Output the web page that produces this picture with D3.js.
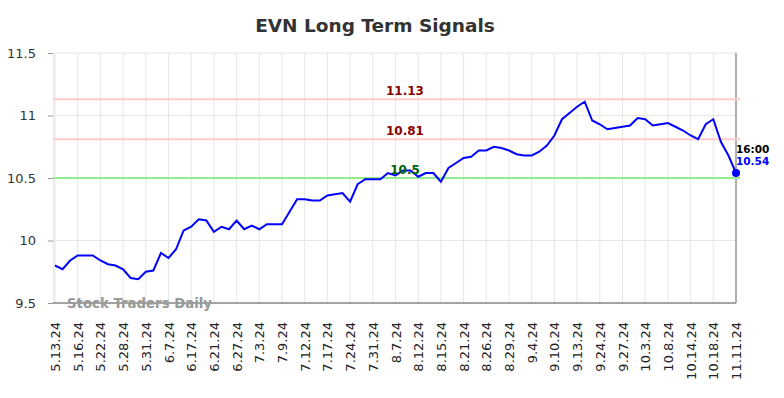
<!DOCTYPE html>
<html>
<head>
<meta charset="utf-8">
<script src="https://d3js.org/d3.v7.min.js"></script>
<style>
  body { margin: 0; background: #fff; }
  text { font-family: "DejaVu Sans", sans-serif; }
  .grid line { stroke: #e6e6e6; }
</style>
</head>
<body>
<div id="chart"></div>
<script>
// tick labels shown on the x axis (every third point)
var tickLabels = ["5.13.24","5.16.24","5.22.24","5.28.24","5.31.24","6.7.24","6.17.24","6.21.24",
  "6.27.24","7.3.24","7.9.24","7.12.24","7.17.24","7.24.24","7.31.24","8.7.24","8.12.24",
  "8.15.24","8.21.24","8.26.24","8.29.24","9.4.24","9.10.24","9.13.24","9.24.24","9.27.24",
  "10.3.24","10.8.24","10.14.24","10.18.24","11.11.24"];

// closing values, one per point
var prices = [9.80,9.77,9.84,9.88,9.88,9.88,9.84,9.81,9.80,9.77,
  9.70,9.69,9.75,9.76,9.90,9.86,9.93,10.08,10.11,10.17,
  10.16,10.07,10.11,10.09,10.16,10.09,10.12,10.09,10.13,10.13,
  10.13,10.23,10.33,10.33,10.32,10.32,10.36,10.37,10.38,10.31,
  10.45,10.49,10.49,10.49,10.54,10.52,10.56,10.56,10.51,10.54,
  10.54,10.47,10.58,10.62,10.66,10.67,10.72,10.72,10.75,10.74,
  10.72,10.69,10.68,10.68,10.71,10.76,10.84,10.97,11.02,11.07,
  11.11,10.96,10.93,10.89,10.90,10.91,10.92,10.98,10.97,10.92,
  10.93,10.94,10.91,10.88,10.84,10.81,10.93,10.97,10.79,10.68,
  10.54];

var yTicks = [9.5, 10, 10.5, 11, 11.5];
var signalLevels = [11.13, 10.81];
var supportLevel = 10.5;
var lastTime = "16:00";

var width = 784, height = 398;

var svg = d3.select("#chart").append("svg")
  .attr("width", width)
  .attr("height", height);

svg.append("text")
  .attr("x", 375).attr("y", 32)
  .attr("text-anchor", "middle")
  .style("font-size", "18.5px").style("font-weight", "bold").style("fill", "#333")
  .text("EVN Long Term Signals");

var idx = d3.range(prices.length);
var x = d3.scalePoint().domain(idx).range([55, 736]);
var y = d3.scaleLinear().domain([9.5, 11.5]).range([303, 53]);

// vertical grid at labelled points
var tickIdx = tickLabels.map(function(d, i) { return i * 3; });
svg.append("g").attr("class", "grid")
  .selectAll("line").data(tickIdx).enter().append("line")
  .attr("x1", function(d) { return x(d); }).attr("x2", function(d) { return x(d); })
  .attr("y1", 53).attr("y2", 303);

svg.append("g").attr("class", "grid")
  .selectAll("line").data(yTicks).enter().append("line")
  .attr("x1", 53).attr("x2", 736)
  .attr("y1", function(d) { return y(d); }).attr("y2", function(d) { return y(d); });

// y axis
var yAxis = svg.append("g")
  .attr("transform", "translate(53,0)")
  .call(d3.axisLeft(y).tickValues(yTicks).tickSize(5).tickPadding(12)
    .tickFormat(function(d) { return d3.format("")(d); }));
yAxis.select(".domain").attr("stroke", "#e6e6e6");
yAxis.selectAll(".tick line").attr("stroke", "#999");
yAxis.selectAll("text").style("font-size", "13px").style("fill", "#333")
  .style("font-family", "DejaVu Sans, sans-serif");

// x axis
var xAxis = svg.append("g")
  .attr("transform", "translate(0,303)")
  .call(d3.axisBottom(x).tickValues(tickIdx).tickSize(0)
    .tickFormat(function(d) { return tickLabels[d / 3]; }));
xAxis.select(".domain").attr("stroke", "#555").attr("d", "M53,0H736");
xAxis.selectAll("text")
  .attr("transform", "rotate(-90)")
  .attr("text-anchor", "end")
  .attr("x", -19).attr("y", 0).attr("dy", "0.35em")
  .style("font-size", "13px").style("fill", "#222")
  .style("font-family", "DejaVu Sans, sans-serif");

// right edge marker
svg.append("line")
  .attr("x1", 736).attr("x2", 736).attr("y1", 53).attr("y2", 303)
  .attr("stroke", "#999").attr("stroke-width", 1.5);

// signal lines
svg.selectAll(".sig").data(signalLevels).enter().append("line")
  .attr("x1", 53).attr("x2", 740)
  .attr("y1", function(d) { return y(d); }).attr("y2", function(d) { return y(d); })
  .attr("stroke", "#ffcccc").attr("stroke-width", 2);
svg.append("line")
  .attr("x1", 53).attr("x2", 740)
  .attr("y1", y(supportLevel)).attr("y2", y(supportLevel))
  .attr("stroke", "#90ee90").attr("stroke-width", 2);

svg.append("text")
  .attr("x", 67).attr("y", 308)
  .style("font-size", "13.3px").style("font-weight", "bold").style("fill", "#999")
  .text("Stock Traders Daily");

// price line
svg.append("path")
  .datum(prices)
  .attr("fill", "none").attr("stroke", "#0000ff").attr("stroke-width", 2)
  .attr("d", d3.line()
    .x(function(d, i) { return x(i); })
    .y(function(d) { return y(d); }));

svg.selectAll(".sigLabel").data(signalLevels).enter().append("text")
  .attr("x", 405).attr("y", function(d) { return y(d) - 4; })
  .attr("text-anchor", "middle")
  .style("font-size", "12px").style("font-weight", "bold").style("fill", "#8b0000")
  .text(function(d) { return d; });
svg.append("text")
  .attr("x", 405).attr("y", y(supportLevel) - 4)
  .attr("text-anchor", "middle")
  .style("font-size", "12px").style("font-weight", "bold").style("fill", "#006400")
  .text(supportLevel);

var last = prices.length - 1;
svg.append("circle")
  .attr("cx", x(last)).attr("cy", y(prices[last])).attr("r", 4)
  .attr("fill", "#0000ff");
svg.append("text")
  .attr("x", x(last)).attr("y", y(prices[last]) - 20)
  .style("font-size", "10.5px").style("font-weight", "bold").style("fill", "#000")
  .text(lastTime);
svg.append("text")
  .attr("x", x(last)).attr("y", y(prices[last]) - 8)
  .style("font-size", "10.5px").style("font-weight", "bold").style("fill", "#0000ff")
  .text(prices[last].toFixed(2));
</script>
</body>
</html>
